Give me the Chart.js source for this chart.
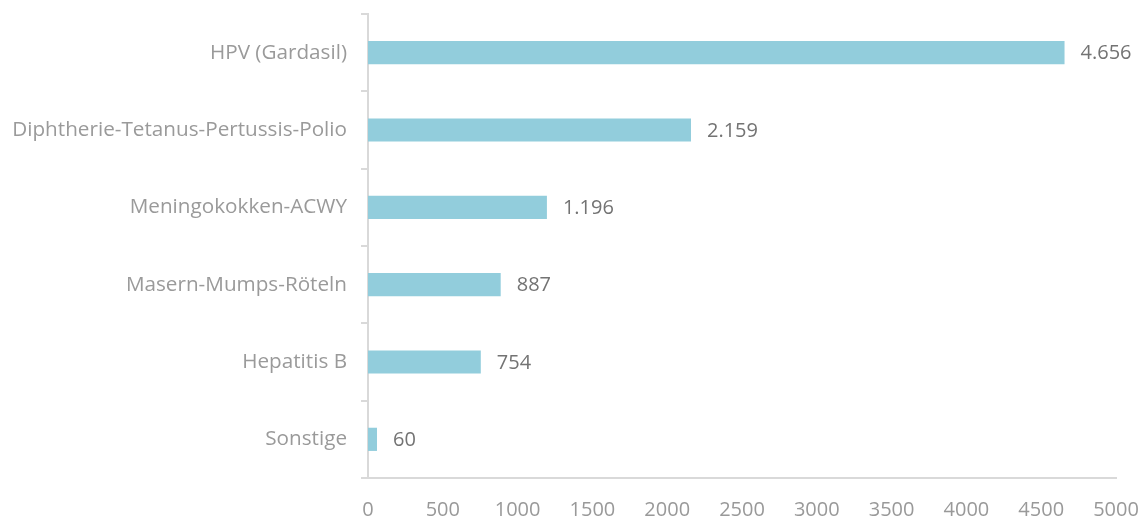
<!DOCTYPE html>
<html>
<head>
<meta charset="utf-8">
<script src="https://cdn.jsdelivr.net/npm/chart.js@4/dist/chart.umd.min.js"></script>
<style>
    html, body { margin: 0; padding: 0; background: #fff; }
    #wrap { width: 1144px; height: 520px; }
</style>
</head>
<body>
<div id="wrap"><canvas id="impfChart"></canvas></div>
<script>
const categories = ['HPV (Gardasil)', 'Diphtherie-Tetanus-Pertussis-Polio', 'Meningokokken-ACWY', 'Masern-Mumps-Röteln', 'Hepatitis B', 'Sonstige'];
const values = [4656, 2159, 1196, 887, 754, 60];
const xTicks = [0, 500, 1000, 1500, 2000, 2500, 3000, 3500, 4000, 4500, 5000];

const FONT = "'Open Sans', sans-serif";

// German thousands separator: 4656 -> "4.656"
function formatDe(v) {
    return String(v).replace(/\B(?=(\d{3})+(?!\d))/g, '.');
}

// draws the value next to the end of each bar
const valueLabels = {
    id: 'valueLabels',
    afterDatasetsDraw(chart) {
        const ctx = chart.ctx;
        const meta = chart.getDatasetMeta(0);
        ctx.save();
        ctx.font = '20px ' + FONT;
        ctx.fillStyle = '#737373';
        ctx.textAlign = 'left';
        ctx.textBaseline = 'middle';
        meta.data.forEach((bar, i) => {
            ctx.fillText(formatDe(values[i]), bar.x + 16, bar.y + 1);
        });
        ctx.restore();
    }
};

new Chart(document.getElementById('impfChart'), {
    type: 'bar',
    data: {
        labels: categories,
        datasets: [{
            data: values,
            backgroundColor: '#92CDDC',
            borderWidth: 0,
            categoryPercentage: 1,
            barPercentage: 0.3
        }]
    },
    options: {
        indexAxis: 'y',
        responsive: true,
        maintainAspectRatio: false,
        animation: false,
        layout: {
            padding: { top: 14, right: 28, bottom: 0, left: 0 }
        },
        plugins: {
            legend: { display: false },
            tooltip: { enabled: false }
        },
        scales: {
            x: {
                min: 0,
                max: 5000,
                afterBuildTicks: (scale) => {
                    scale.ticks = xTicks.map(v => ({ value: v }));
                },
                afterFit: (scale) => {
                    scale.height = 42;
                    scale.paddingLeft = 0;
                    scale.paddingRight = 0;
                },
                grid: { display: false },
                border: { display: true, color: '#d9d9d9', width: 2 },
                ticks: {
                    color: '#999999',
                    font: { family: FONT, size: 20 },
                    padding: 12,
                    maxRotation: 0,
                    callback: (v) => String(v)
                }
            },
            y: {
                afterFit: (scale) => {
                    scale.width = 368;
                    scale.paddingTop = 0;
                    scale.paddingBottom = 0;
                },
                grid: {
                    display: true,
                    drawOnChartArea: false,
                    drawTicks: true,
                    tickLength: 7,
                    offset: true,
                    color: '#d9d9d9',
                    lineWidth: 2
                },
                border: { display: true, color: '#d9d9d9', width: 2 },
                ticks: {
                    color: '#9a9a9a',
                    font: { family: FONT, size: 20.7 },
                    padding: 14
                }
            }
        }
    },
    plugins: [valueLabels]
});
</script>
</body>
</html>
